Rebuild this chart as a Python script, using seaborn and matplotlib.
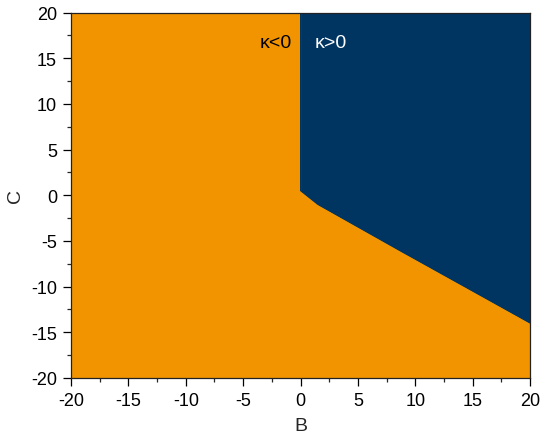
import numpy as np
import pandas as pd
import matplotlib
matplotlib.use('Agg')
import matplotlib.pyplot as plt
import seaborn as sns

# ================= DATA =================
# boundary of the kappa>0 region (B, C)
B_edge = [0.0, 0.0, 1.5, 8.7, 16.0, 20.0]
C_edge = [20.0, 0.5, -1.0, -6.1, -11.2, -14.0]
x_ticks = [-20, -15, -10, -5, 0, 5, 10, 15, 20]
y_ticks = [-20, -15, -10, -5, 0, 5, 10, 15, 20]
region_labels = ['κ<0', 'κ>0']

orange = '#F29400'
navy = '#003461'

sns.set_theme(style='ticks')
plt.rcParams['font.family'] = ['Liberation Sans', 'DejaVu Sans']
plt.rcParams['axes.unicode_minus'] = False

fig, ax = plt.subplots(figsize=(5.46, 4.39), dpi=100)
fig.subplots_adjust(left=0.13, right=0.971, top=0.969, bottom=0.137)

# whole domain is kappa<0, then the kappa>0 region on top
ax.fill_between([-20, 20], -20, 20, color=orange, lw=0)
edge = pd.DataFrame({'B': B_edge, 'C': C_edge})
ax.fill_between(edge['B'], edge['C'], 20, color=navy, lw=0)
sns.lineplot(data=edge, x='B', y='C', sort=False, estimator=None,
             color=navy, lw=0.8, ax=ax)

ax.text(-2.2, 16.7, region_labels[0], color='black', fontsize=14, ha='center', va='center')
ax.text(2.6, 16.7, region_labels[1], color='white', fontsize=14, ha='center', va='center')

ax.set_xlim(-20, 20)
ax.set_ylim(-20, 20)
ax.set_xticks(x_ticks)
ax.set_yticks(y_ticks)
ax.set_xticks(np.arange(-17.5, 20, 5), minor=True)
ax.set_yticks(np.arange(-17.5, 20, 5), minor=True)
ax.tick_params(which='major', direction='out', length=6, width=0.9, pad=4,
               labelsize=13, colors='black')
ax.tick_params(which='minor', direction='out', length=3, width=0.9)
ax.set_xlabel('B', fontsize=14, labelpad=6)
ax.set_ylabel('C', fontsize=14, labelpad=5)
for s in ax.spines.values():
    s.set_visible(True)
    s.set_linewidth(0.9)
    s.set_color('#222222')

plt.savefig('out.png', dpi=100)
